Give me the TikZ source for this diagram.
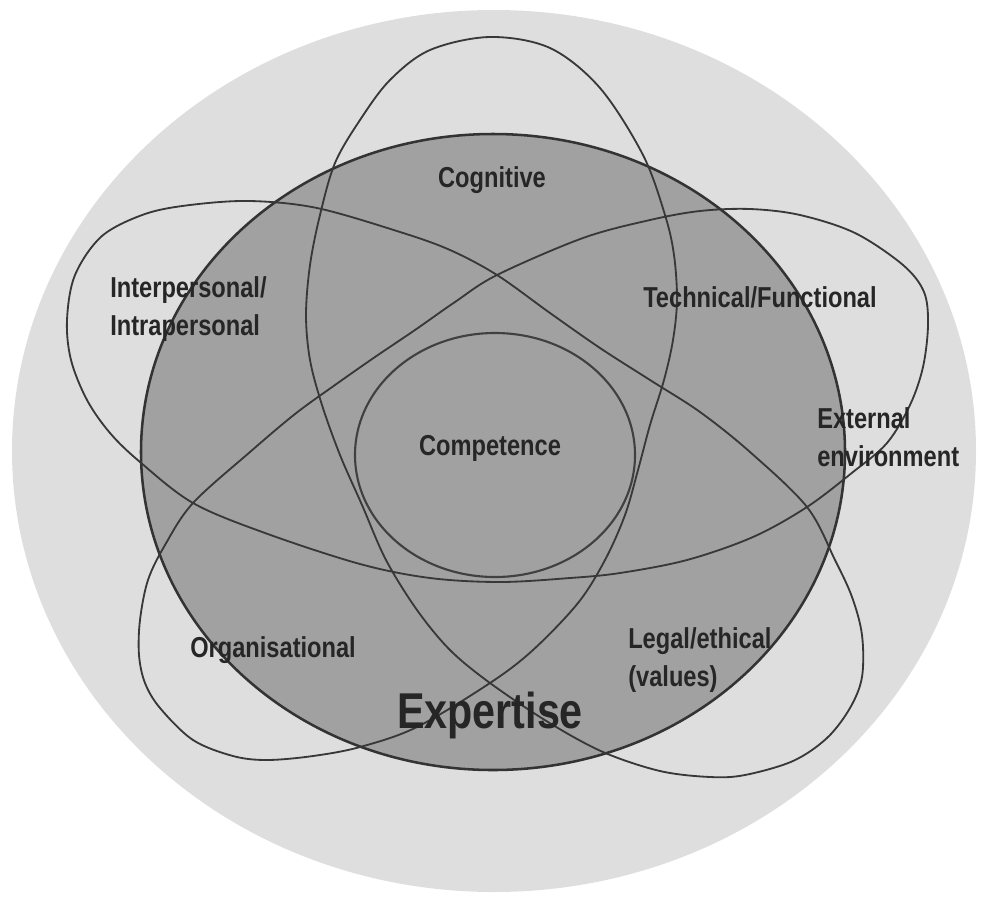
\documentclass[tikz,border=0pt]{standalone}
\usepackage{fontspec}
\usepackage{tikz}
\newfontfamily\labelfont{Liberation Sans}[FakeStretch=0.82]

\begin{document}
\begin{tikzpicture}[x=0.025cm,y=-0.025cm,
  lbl/.style={font=\labelfont\bfseries\fontsize{20.5}{26.5}\selectfont,inner sep=0pt,text=black!85},
  star/.style={draw=black!78,line width=1.3pt}]
\useasboundingbox (0,0) rectangle (986,896);
\fill[color=black!13] (494,451) circle (482 and 441);
\draw[fill=black!37,draw=black!80,line width=1.8pt] (493,452) circle (352 and 318);
\draw[draw=black!75,line width=1.5pt] (495,455) circle (140 and 122);
\draw[star] plot[smooth cycle,tension=0.55] coordinates {
  (490,37) (430,50) (390,80) (360,120) (335,163) (320,215) (310,265) (306,315)
  (310,360) (322,405) (340,455) (362,505) (386,560) (417,610) (450,650) (490,683)
  (548,722) (603,752) (660,771) (710,777) (745,775) (793,761) (827,738) (850,708)
  (862,677) (862,635) (852,597) (835,560) (807,507) (750,452) (700,412) (650,380)
  (600,348) (550,313) (497,275) (450,250) (400,232) (317,208) (250,201) (190,205)
  (145,214) (102,236) (75,275) (67,320) (71,360) (87,400) (110,433) (140,462)
  (193,503) (265,533) (360,564) (430,578) (500,582) (570,578) (620,573) (687,560)
  (753,537) (807,507) (853,472) (887,443) (910,405) (923,367) (928,325) (924,292)
  (903,265) (855,233) (800,215) (750,209) (700,211) (650,220) (583,238) (497,275)
  (455,302) (415,330) (375,357) (335,385) (295,414) (250,452) (193,503) (165,545)
  (148,580) (140,620) (139,655) (145,683) (160,708) (193,740) (233,756) (267,760)
  (313,756) (360,747) (417,727) (490,683) (533,650) (578,603) (605,560) (625,515)
  (638,470) (650,425) (664,380) (673,340) (677,300) (674,255) (665,215) (643,155)
  (600,88) (550,48)};
\node[lbl,anchor=base] (cognitive) at (492,187) {Cognitive};
\node[lbl,anchor=base west,align=left] (interpersonal) at (110,335) {Interpersonal/\\Intrapersonal};
\node[lbl,anchor=base west] (technical) at (643,307) {Technical/Functional};
\node[lbl,anchor=base west,align=left] (external) at (817,466) {External\\environment};
\node[lbl,anchor=base] (competence) at (490,455) {Competence};
\node[lbl,anchor=base west] (organisational) at (190,657) {Organisational};
\node[lbl,anchor=base west,align=left] (legal) at (628,686) {Legal/ethical\\(values)};
\node[lbl,anchor=base,font=\labelfont\bfseries\fontsize{35.8}{40}\selectfont] (expertise) at (490,728) {Expertise};
\end{tikzpicture}
\end{document}
